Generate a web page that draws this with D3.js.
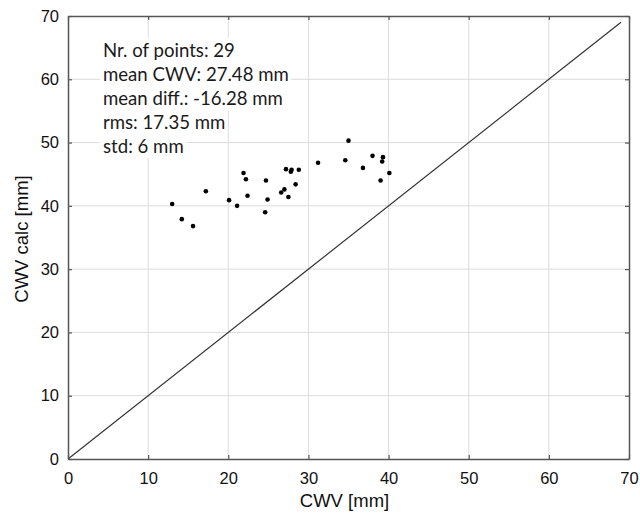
<!DOCTYPE html>
<html>
<head>
<meta charset="utf-8">
<script src="https://cdn.jsdelivr.net/npm/d3@7"></script>
<style>
  body { margin: 0; background: #fff; }
  svg { display: block; }
</style>
</head>
<body>
<svg id="chart" width="640" height="515"></svg>
<script>
const cwvMeasured = [21.9, 22.2, 24.7, 17.2, 13.0, 20.1, 22.4, 24.9, 21.1, 14.2, 15.6, 24.6,
  35.0, 27.2, 27.9, 27.8, 28.8, 31.2, 34.6, 38.0, 39.3, 39.2, 36.8, 40.1, 39.0, 28.4, 27.0, 26.6, 27.5];
const cwvCalc = [45.2, 44.2, 44.0, 42.3, 40.3, 40.9, 41.6, 41.0, 40.0, 37.9, 36.8, 39.0,
  50.3, 45.8, 45.7, 45.4, 45.7, 46.8, 47.2, 47.9, 47.7, 47.0, 46.0, 45.2, 44.0, 43.4, 42.6, 42.1, 41.4];
const tickValues = [0, 10, 20, 30, 40, 50, 60, 70];
const statLines = [
  "Nr. of points: 29",
  "mean CWV: 27.48 mm",
  "mean diff.: -16.28 mm",
  "rms: 17.35 mm",
  "std: 6 mm"
];
const diagonal = [0, 69];

const margin = { top: 16, right: 11, bottom: 56, left: 68 };
const width = 640 - margin.left - margin.right;
const height = 515 - margin.top - margin.bottom;

const svg = d3.select("#chart");
const g = svg.append("g")
  .attr("transform", `translate(${margin.left},${margin.top})`);

const x = d3.scaleLinear().domain([0, 70]).range([0, width]);
const y = d3.scaleLinear().domain([0, 70]).range([height, 0]);

// grid
g.append("g")
  .selectAll("line.gx")
  .data(tickValues.slice(1, -1))
  .enter().append("line")
  .attr("x1", d => x(d)).attr("x2", d => x(d))
  .attr("y1", 0).attr("y2", height)
  .attr("stroke", "#dcdcdc").attr("stroke-width", 1);
g.append("g")
  .selectAll("line.gy")
  .data(tickValues.slice(1, -1))
  .enter().append("line")
  .attr("y1", d => y(d)).attr("y2", d => y(d))
  .attr("x1", 0).attr("x2", width)
  .attr("stroke", "#dcdcdc").attr("stroke-width", 1);

// stats text, each line on its own white patch
const statG = g.append("g");
statLines.forEach(function(s, i) {
  let row = statG.append("g");
  let t = row.append("text")
    .attr("x", 35)
    .attr("y", 41 + i * 24)
    .attr("font-family", "Lato, 'Open Sans', sans-serif")
    .attr("font-size", "18.6px")
    .attr("fill", "#1a1a1a")
    .text(s);
  let bb = t.node().getBBox();
  row.insert("rect", "text")
    .attr("x", bb.x - 3).attr("y", bb.y - 1)
    .attr("width", bb.width + 5).attr("height", bb.height + 2)
    .attr("fill", "#fff");
});

// 1:1 line
g.append("line")
  .attr("x1", x(diagonal[0])).attr("y1", y(diagonal[0]))
  .attr("x2", x(diagonal[1])).attr("y2", y(diagonal[1]))
  .attr("stroke", "#333").attr("stroke-width", 1.2);

// points
g.append("g")
  .selectAll("circle")
  .data(cwvMeasured)
  .enter().append("circle")
  .attr("cx", d => x(d))
  .attr("cy", (d, i) => y(cwvCalc[i]))
  .attr("r", 2.3)
  .attr("fill", "#000");

// axes with inward ticks
const axisFont = "'Liberation Sans', Arial, sans-serif";
const xAxis = g.append("g")
  .attr("transform", `translate(0,${height})`)
  .call(d3.axisBottom(x).tickValues(tickValues).tickSizeInner(-4).tickSizeOuter(0).tickPadding(13));
const yAxis = g.append("g")
  .call(d3.axisLeft(y).tickValues(tickValues).tickSizeInner(-4).tickSizeOuter(0).tickPadding(9));
const xTop = g.append("g")
  .call(d3.axisTop(x).tickValues(tickValues).tickSizeInner(-4).tickSizeOuter(0).tickFormat(""));
const yRight = g.append("g")
  .attr("transform", `translate(${width},0)`)
  .call(d3.axisRight(y).tickValues(tickValues).tickSizeInner(-4).tickSizeOuter(0).tickFormat(""));

[xAxis, yAxis, xTop, yRight].forEach(function(a) {
  a.select(".domain").attr("stroke", "#555").attr("stroke-width", 1.5);
  a.selectAll(".tick line").attr("stroke", "#555").attr("stroke-width", 1.2);
  a.selectAll("text").attr("font-family", axisFont).attr("font-size", "16.5px").attr("fill", "#111");
});

// axis titles
svg.append("text")
  .attr("x", margin.left + width / 2 - 4)
  .attr("y", 507)
  .attr("text-anchor", "middle")
  .attr("font-family", axisFont)
  .attr("font-size", "18.5px")
  .attr("fill", "#111")
  .text("CWV [mm]");
svg.append("text")
  .attr("transform", "translate(28,239) rotate(-90)")
  .attr("text-anchor", "middle")
  .attr("font-family", axisFont)
  .attr("font-size", "18.5px")
  .attr("fill", "#111")
  .text("CWV calc [mm]");
</script>
</body>
</html>
